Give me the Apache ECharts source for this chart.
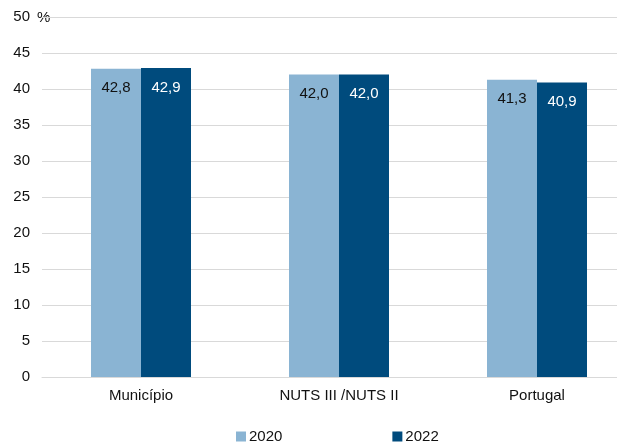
<!DOCTYPE html>
<html><head><meta charset="utf-8">
<script src="https://cdn.jsdelivr.net/npm/echarts@6/dist/echarts.min.js"></script>
<style>html,body{margin:0;padding:0;background:#fff}#c{width:617px;height:443px}</style>
</head><body><div id="c"></div>
<script>
const categories = ['Município', 'NUTS III /NUTS II', 'Portugal'];
const values2020 = [42.8, 42.0, 41.3];
const values2022 = [42.9, 42.0, 40.9];
const seriesNames = ['2020', '2022'];
const font = 'Liberation Sans, Arial, sans-serif';
const fs = 15;
const chart = echarts.init(document.getElementById('c'));
const fmt = p => p.value.toFixed(1).replace('.', ',');
chart.setOption({
  animation: false,
  textStyle: { fontFamily: font },
  grid: { left: 42, top: 17, width: 594, height: 360, outerBoundsMode: 'none', containLabel: false },
  legend: {
    left: 236, top: 429, padding: 0, itemWidth: 10, itemHeight: 10, itemGap: 110,
    icon: 'rect',
    textStyle: { fontFamily: font, fontSize: fs, color: '#111', padding: [0, 0, 0, -2] },
    data: seriesNames
  },
  xAxis: {
    type: 'category', data: categories,
    axisLine: { lineStyle: { color: '#d9d9d9', width: 1 } },
    axisTick: { show: false },
    axisLabel: { fontFamily: font, fontSize: fs, color: '#111', margin: 11 }
  },
  yAxis: {
    type: 'value', min: 0, max: 50, interval: 5,
    axisLine: { show: false }, axisTick: { show: false },
    splitLine: { lineStyle: { color: '#d9d9d9', width: 1 } },
    axisLabel: { fontFamily: font, fontSize: fs, color: '#111', margin: 12 }
  },
  graphic: [{ type: 'text', left: 37, top: 10, style: { text: '%', font: fs + 'px ' + font, fill: '#111' } }],
  series: [
    { name: seriesNames[0], type: 'bar', data: values2020, barWidth: 50, barGap: '0%',
      itemStyle: { color: '#8AB4D3' },
      label: { show: true, position: 'insideTop', distance: 12, formatter: fmt, fontFamily: font, fontSize: fs, color: '#111' } },
    { name: seriesNames[1], type: 'bar', data: values2022, barWidth: 50, barGap: '0%',
      itemStyle: { color: '#004B7D' },
      label: { show: true, position: 'insideTop', distance: 12, formatter: fmt, fontFamily: font, fontSize: fs, color: '#fff' } }
  ]
});
</script></body></html>
